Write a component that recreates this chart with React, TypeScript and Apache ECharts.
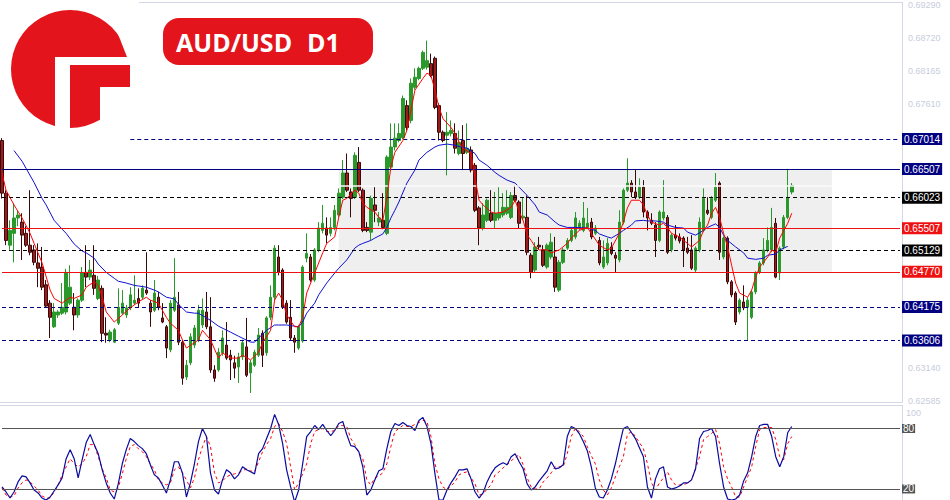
import React, { useEffect, useRef } from 'react';
import * as echarts from 'echarts';

// ---------- DATA ----------
const opens = [
  0.6699,0.6610,0.6522,0.6542,0.6568,0.6561,0.6542,0.6522,0.6514,0.6492,
  0.6485,0.6455,0.6424,0.6384,0.6404,0.6407,0.6409,0.6424,0.6417,0.6404,
  0.6429,0.6476,0.6468,0.6471,0.6432,0.6449,0.6373,0.6362,0.6358,0.6390,
  0.6407,0.6404,0.6416,0.6424,0.6432,0.6434,0.6446,0.6424,0.6412,0.6434,
  0.6399,0.6384,0.6345,0.6412,0.6421,0.6358,0.6299,0.6323,0.6353,0.6362,
  0.6387,0.6409,0.6384,0.6311,0.6311,0.6340,0.6353,0.6336,0.6323,0.6316,
  0.6333,0.6350,0.6306,0.6319,0.6336,0.6373,0.6340,0.6400,0.6434,0.6502,
  0.6480,0.6424,0.6400,0.6365,0.6348,0.6360,0.6500,0.6502,0.6463,0.6514,
  0.6547,0.6551,0.6542,0.6552,0.6573,0.6603,0.6644,0.6612,0.6603,0.6662,
  0.6615,0.6552,0.6544,0.6590,0.6561,0.6564,0.6542,0.6654,0.6688,0.6699,
  0.6704,0.6758,0.6733,0.6789,0.6804,0.6821,0.6823,0.6829,0.6838,0.6758,
  0.6713,0.6708,0.6711,0.6711,0.6677,0.6699,0.6679,0.6683,0.6657,0.6585,
  0.6551,0.6564,0.6576,0.6564,0.6568,0.6573,0.6576,0.6569,0.6606,0.6595,
  0.6568,0.6569,0.6505,0.6480,0.6522,0.6514,0.6485,0.6502,0.6502,0.6446,
  0.6493,0.6517,0.6530,0.6536,0.6551,0.6547,0.6552,0.6561,0.6542,0.6530,
  0.6485,0.6492,0.6519,0.6505,0.6497,0.6561,0.6615,0.6627,0.6612,0.6603,
  0.6620,0.6578,0.6564,0.6556,0.6530,0.6568,0.6569,0.6514,0.6539,0.6536,
  0.6534,0.6517,0.6514,0.6480,0.6514,0.6547,0.6581,0.6569,0.6598,0.6627,
  0.6502,0.6534,0.6460,0.6441,0.6409,0.6426,0.6417,0.6400,0.6443,0.6476,
  0.6492,0.6514,0.6514,0.6559,0.6475,0.6519,0.6569,0.6612
];
const closes = [
  0.6610,0.6530,0.6547,0.6568,0.6573,0.6539,0.6522,0.6510,0.6493,0.6483,
  0.6451,0.6419,0.6400,0.6409,0.6409,0.6417,0.6476,0.6451,0.6404,0.6429,
  0.6476,0.6468,0.6480,0.6449,0.6463,0.6373,0.6370,0.6375,0.6379,0.6417,
  0.6424,0.6416,0.6438,0.6429,0.6424,0.6449,0.6441,0.6409,0.6441,0.6417,
  0.6392,0.6348,0.6424,0.6434,0.6358,0.6297,0.6319,0.6367,0.6382,0.6412,
  0.6412,0.6384,0.6311,0.6297,0.6341,0.6365,0.6331,0.6328,0.6314,0.6333,
  0.6357,0.6302,0.6323,0.6341,0.6370,0.6336,0.6399,0.6434,0.6517,0.6476,
  0.6417,0.6392,0.6365,0.6358,0.6384,0.6485,0.6508,0.6463,0.6514,0.6551,
  0.6559,0.6539,0.6552,0.6581,0.6610,0.6644,0.6615,0.6601,0.6674,0.6615,
  0.6547,0.6547,0.6601,0.6581,0.6568,0.6552,0.6671,0.6688,0.6703,0.6711,
  0.6770,0.6721,0.6796,0.6806,0.6821,0.6848,0.6834,0.6809,0.6755,0.6713,
  0.6699,0.6713,0.6716,0.6686,0.6696,0.6677,0.6686,0.6649,0.6581,0.6551,
  0.6573,0.6598,0.6564,0.6576,0.6576,0.6586,0.6586,0.6606,0.6598,0.6559,
  0.6571,0.6510,0.6476,0.6519,0.6519,0.6488,0.6522,0.6527,0.6451,0.6493,
  0.6514,0.6530,0.6547,0.6568,0.6559,0.6568,0.6559,0.6536,0.6551,0.6492,
  0.6502,0.6525,0.6508,0.6500,0.6561,0.6615,0.6627,0.6612,0.6603,0.6620,
  0.6578,0.6568,0.6559,0.6530,0.6578,0.6578,0.6510,0.6539,0.6534,0.6529,
  0.6514,0.6510,0.6483,0.6517,0.6561,0.6601,0.6576,0.6601,0.6620,0.6510,
  0.6534,0.6460,0.6438,0.6392,0.6429,0.6416,0.6429,0.6443,0.6475,0.6492,
  0.6514,0.6530,0.6552,0.6468,0.6517,0.6569,0.6603,0.6623
];
const lows = [
  0.6601,0.6522,0.6514,0.6493,0.6554,0.6497,0.6519,0.6505,0.6488,0.6451,
  0.6446,0.6416,0.6365,0.6382,0.6399,0.6404,0.6405,0.6421,0.6378,0.6399,
  0.6426,0.6451,0.6463,0.6438,0.6429,0.6358,0.6357,0.6358,0.6357,0.6387,
  0.6404,0.6399,0.6412,0.6421,0.6416,0.6431,0.6438,0.6384,0.6409,0.6412,
  0.6390,0.6331,0.6341,0.6409,0.6353,0.6286,0.6294,0.6319,0.6348,0.6358,
  0.6382,0.6380,0.6306,0.6291,0.6308,0.6335,0.6328,0.6294,0.6297,0.6289,
  0.6328,0.6299,0.6272,0.6316,0.6333,0.6316,0.6335,0.6395,0.6429,0.6471,
  0.6414,0.6389,0.6360,0.6340,0.6345,0.6357,0.6493,0.6460,0.6460,0.6510,
  0.6542,0.6525,0.6537,0.6547,0.6569,0.6600,0.6612,0.6569,0.6600,0.6612,
  0.6544,0.6544,0.6530,0.6561,0.6554,0.6549,0.6539,0.6649,0.6682,0.6696,
  0.6701,0.6716,0.6728,0.6785,0.6801,0.6818,0.6819,0.6806,0.6752,0.6699,
  0.6696,0.6640,0.6706,0.6677,0.6674,0.6649,0.6676,0.6645,0.6578,0.6522,
  0.6547,0.6561,0.6561,0.6551,0.6564,0.6569,0.6573,0.6566,0.6595,0.6551,
  0.6564,0.6505,0.6466,0.6476,0.6515,0.6485,0.6482,0.6498,0.6443,0.6443,
  0.6490,0.6514,0.6527,0.6532,0.6547,0.6544,0.6549,0.6532,0.6539,0.6488,
  0.6482,0.6488,0.6505,0.6476,0.6493,0.6557,0.6612,0.6603,0.6600,0.6600,
  0.6569,0.6547,0.6556,0.6502,0.6527,0.6564,0.6507,0.6510,0.6530,0.6525,
  0.6485,0.6507,0.6480,0.6476,0.6510,0.6544,0.6573,0.6566,0.6595,0.6497,
  0.6498,0.6456,0.6434,0.6387,0.6405,0.6412,0.6360,0.6397,0.6439,0.6473,
  0.6488,0.6510,0.6510,0.6466,0.6463,0.6515,0.6566,0.6608
];
const highs = [
  0.6703,0.6615,0.6564,0.6593,0.6581,0.6576,0.6554,0.6615,0.6522,0.6525,
  0.6519,0.6463,0.6429,0.6424,0.6412,0.6458,0.6482,0.6488,0.6441,0.6432,
  0.6485,0.6522,0.6497,0.6522,0.6470,0.6454,0.6400,0.6379,0.6382,0.6449,
  0.6446,0.6421,0.6451,0.6471,0.6449,0.6454,0.6510,0.6429,0.6463,0.6443,
  0.6424,0.6387,0.6429,0.6500,0.6443,0.6362,0.6328,0.6373,0.6387,0.6421,
  0.6432,0.6443,0.6434,0.6319,0.6348,0.6378,0.6392,0.6345,0.6335,0.6340,
  0.6362,0.6399,0.6328,0.6345,0.6382,0.6378,0.6402,0.6454,0.6522,0.6522,
  0.6483,0.6429,0.6429,0.6370,0.6387,0.6488,0.6542,0.6507,0.6517,0.6561,
  0.6590,0.6569,0.6569,0.6590,0.6618,0.6666,0.6677,0.6618,0.6679,0.6688,
  0.6618,0.6561,0.6606,0.6620,0.6578,0.6610,0.6674,0.6728,0.6728,0.6728,
  0.6775,0.6767,0.6804,0.6821,0.6824,0.6851,0.6868,0.6846,0.6841,0.6762,
  0.6716,0.6747,0.6733,0.6728,0.6716,0.6725,0.6728,0.6689,0.6661,0.6588,
  0.6593,0.6601,0.6615,0.6612,0.6620,0.6610,0.6615,0.6612,0.6623,0.6598,
  0.6603,0.6606,0.6509,0.6527,0.6536,0.6522,0.6525,0.6542,0.6536,0.6497,
  0.6517,0.6534,0.6551,0.6578,0.6564,0.6595,0.6585,0.6568,0.6556,0.6536,
  0.6530,0.6534,0.6527,0.6510,0.6581,0.6618,0.6669,0.6632,0.6649,0.6635,
  0.6632,0.6581,0.6576,0.6561,0.6581,0.6632,0.6573,0.6542,0.6556,0.6542,
  0.6537,0.6536,0.6539,0.6520,0.6569,0.6618,0.6603,0.6605,0.6644,0.6630,
  0.6537,0.6537,0.6463,0.6444,0.6432,0.6454,0.6434,0.6446,0.6478,0.6495,
  0.6534,0.6552,0.6585,0.6568,0.6520,0.6573,0.6651,0.6627
];

// moving averages, read at bar indices: [barIndex, value]
const fastMA = [
  [0,0.6644],[1,0.6615],[3,0.6590],[5,0.6568],[7,0.6542],[8,0.6525],[10,0.6492],[12,0.6446],[13,0.6432],[15,0.6424],
  [17,0.6434],[18,0.6432],[20,0.6438],[21,0.6451],[23,0.6460],[24,0.6454],[25,0.6434],[26,0.6409],[28,0.6392],[30,0.6404],
  [32,0.6416],[34,0.6426],[36,0.6434],[37,0.6429],[39,0.6424],[41,0.6400],[42,0.6390],[44,0.6378],[45,0.6362],[46,0.6348],
  [48,0.6357],[49,0.6362],[50,0.6378],[52,0.6362],[54,0.6331],[55,0.6340],[57,0.6331],[59,0.6331],[60,0.6336],[62,0.6328],
  [64,0.6341],[65,0.6357],[67,0.6378],[68,0.6429],[69,0.6441],[70,0.6429],[71,0.6404],[73,0.6384],[74,0.6384],[75,0.6400],
  [76,0.6441],[77,0.6458],[78,0.6475],[80,0.6509],[81,0.6525],[83,0.6536],[84,0.6569],[85,0.6598],[86,0.6601],[88,0.6615],
  [89,0.6610],[90,0.6593],[91,0.6586],[93,0.6578],[94,0.6569],[95,0.6564],[96,0.6603],[97,0.6654],[98,0.6679],[100,0.6699],
  [101,0.6716],[102,0.6750],[103,0.6784],[105,0.6804],[106,0.6813],[107,0.6809],[108,0.6784],[109,0.6755],[110,0.6736],[112,0.6721],
  [113,0.6711],[114,0.6696],[115,0.6686],[117,0.6677],[118,0.6635],[119,0.6598],[120,0.6590],[122,0.6578],[123,0.6576],[125,0.6578],
  [127,0.6586],[128,0.6598],[129,0.6578],[130,0.6564],[131,0.6539],[132,0.6530],[133,0.6519],[134,0.6514],[136,0.6514],[137,0.6509],
  [139,0.6514],[141,0.6525],[142,0.6534],[144,0.6547],[146,0.6552],[147,0.6542],[149,0.6522],[151,0.6514],[152,0.6517],[154,0.6542],
  [155,0.6561],[156,0.6585],[157,0.6598],[159,0.6598],[160,0.6590],[161,0.6573],[162,0.6561],[164,0.6556],[165,0.6559],[166,0.6552],
  [167,0.6542],[169,0.6536],[170,0.6530],[171,0.6525],[172,0.6519],[174,0.6530],[175,0.6547],[176,0.6556],[177,0.6576],[178,0.6586],
  [179,0.6569],[180,0.6542],[181,0.6519],[182,0.6488],[183,0.6458],[184,0.6441],[186,0.6434],[187,0.6446],[188,0.6468],[189,0.6485],
  [191,0.6502],[192,0.6514],[193,0.6510],[194,0.6534],[196,0.6559],[197,0.6576]
];
const slowMA = [
  [3,0.6682],[5,0.6664],[6,0.6652],[8,0.6628],[10,0.6601],[11,0.6590],[13,0.6564],[15,0.6549],[16,0.6542],[18,0.6524],
  [20,0.6512],[21,0.6509],[23,0.6500],[24,0.6490],[26,0.6476],[28,0.6466],[29,0.6461],[31,0.6458],[33,0.6454],[34,0.6453],
  [36,0.6451],[38,0.6446],[39,0.6443],[41,0.6434],[43,0.6431],[44,0.6422],[46,0.6409],[48,0.6407],[49,0.6407],[52,0.6395],
  [54,0.6385],[57,0.6375],[59,0.6368],[62,0.6358],[63,0.6358],[64,0.6365],[66,0.6378],[68,0.6387],[69,0.6387],[71,0.6387],
  [73,0.6385],[74,0.6384],[75,0.6392],[76,0.6407],[78,0.6424],[79,0.6438],[81,0.6458],[83,0.6475],[84,0.6483],[86,0.6497],
  [88,0.6517],[89,0.6522],[90,0.6525],[92,0.6530],[93,0.6534],[95,0.6541],[96,0.6552],[97,0.6568],[98,0.6581],[99,0.6595],
  [101,0.6627],[103,0.6649],[104,0.6666],[106,0.6679],[108,0.6688],[109,0.6691],[111,0.6693],[113,0.6691],[114,0.6689],[116,0.6686],
  [118,0.6677],[119,0.6666],[121,0.6657],[123,0.6645],[124,0.6640],[126,0.6632],[128,0.6627],[129,0.6620],[131,0.6606],[133,0.6590],
  [134,0.6578],[136,0.6573],[138,0.6561],[139,0.6556],[141,0.6552],[143,0.6552],[146,0.6551],[148,0.6547],[149,0.6541],[151,0.6536],
  [152,0.6534],[154,0.6542],[155,0.6547],[157,0.6556],[158,0.6563],[160,0.6564],[161,0.6563],[163,0.6563],[165,0.6561],[166,0.6556],
  [168,0.6552],[170,0.6551],[171,0.6544],[173,0.6539],[175,0.6547],[176,0.6552],[178,0.6558],[179,0.6552],[180,0.6539],[181,0.6530],
  [183,0.6519],[185,0.6509],[186,0.6500],[188,0.6498],[190,0.6500],[191,0.6505],[193,0.6507],[194,0.6514],[196,0.6520]
];

// stochastic oscillator
const stochK = [
  22,17,11,17,27,33,32,26,19,16, 11,9,12,18,24,31,50,59,50,31,
  49,66,74,64,55,39,26,16,10,25, 45,59,70,67,63,60,55,44,34,31,
  24,16,29,47,47,36,12,26,45,67, 80,72,36,19,15,29,39,36,30,34,
  42,39,37,35,55,60,70,80,94,84, 65,39,22,7,19,45,72,77,83,79,
  84,78,73,78,85,87,74,63,62,57, 42,14,19,29,38,40,60,77,85,83,
  86,83,82,78,88,91,82,65,35,9, 9,19,26,32,39,39,40,30,17,11,
  16,27,35,41,44,46,44,52,55,47, 40,25,19,22,28,33,38,47,40,41,
  44,72,82,80,75,67,58,42,21,12, 11,19,30,45,63,80,82,76,70,61,
  52,22,11,30,40,42,22,20,21,23, 26,26,29,40,70,77,78,80,72,45,
  22,10,9,10,14,28,36,52,72,83, 84,84,72,52,42,52,76,82
];
const stochD = [
  21,14,12,13,21,26,29,27,23,19, 13,11,11,17,24,34,42,50,45,42,
  45,52,64,64,52,40,31,19,17,21, 35,50,62,64,60,57,52,45,39,29,
  26,24,26,39,42,36,29,21,31,49, 62,72,62,36,26,28,32,34,35,36,
  38,40,38,37,47,57,64,70,82,85, 77,65,42,19,26,35,45,65,77,79,
  80,77,77,78,83,83,82,70,64,56, 50,29,24,31,33,36,45,62,77,80,
  83,82,82,84,86,88,87,72,45,30, 22,19,23,27,34,36,37,31,25,14,
  15,20,24,34,37,41,44,48,51,54, 44,31,22,20,20,27,31,36,42,42,
  42,55,72,80,77,72,62,53,45,29, 19,14,21,32,42,52,74,77,72,66,
  60,45,26,19,26,31,37,29,24,24, 24,26,29,40,52,69,72,75,79,65,
  42,30,22,12,12,22,32,42,62,79, 81,81,81,69,52,49,65,72
];

const priceTicks = [0.6929, 0.6872, 0.68165, 0.6761, 0.6314, 0.62585];
const levelValues = [0.67014, 0.66507, 0.66023, 0.65507, 0.65129, 0.6477, 0.64175, 0.63606];
const stochLevels = [80, 20];
const zoneHigh = 0.66507;
const zoneLow = 0.6477;
const zoneSplit = 0.66233;

// ---------- STYLE / LAYOUT ----------
const NAVY = '#000080';
const RED = '#ee1111';
const BLACK = '#000000';
const levelStyles = [
  { line: NAVY, dashed: true, box: NAVY, startBar: 32 },
  { line: NAVY, dashed: false, box: NAVY },
  { line: BLACK, dashed: true, box: BLACK },
  { line: RED, dashed: false, box: RED },
  { line: BLACK, dashed: true, box: BLACK },
  { line: RED, dashed: false, box: RED },
  { line: NAVY, dashed: true, box: NAVY },
  { line: NAVY, dashed: true, box: NAVY },
];
const SLOTS = 225;
const zoneStartBar = 84;
const zoneEndBar = 207;
const LOGO_RED = '#e3141b';
const FONT = '"Liberation Sans", Arial, sans-serif';
const AXIS_C = '#d3d7e6';
const FAINT = '#c9ccdd';

export default function App() {
  const ref = useRef<HTMLDivElement>(null);
  useEffect(() => {
    if (!ref.current) return;
    const chart = echarts.init(ref.current, null, { renderer: 'svg' });
    const slots = Array.from({ length: SLOTS }, (_, i) => String(i));
    const candles = opens.map((o, i) => [o, closes[i], lows[i], highs[i]]);

    const levelMarks: any[] = levelValues.map((v, k) => {
      const st: any = levelStyles[k];
      const lineStyle = { color: st.line, width: 1, type: st.dashed ? [4, 3] : 'solid' };
      const label = {
        show: true, position: 'end', formatter: v.toFixed(5), color: '#ffffff',
        backgroundColor: st.box, padding: [1, 2, 0, 2], fontSize: 10, lineHeight: 11,
        fontFamily: FONT, distance: 2,
      };
      const startBar = st.startBar !== undefined ? st.startBar : 0;
      return [
        { coord: [startBar, v], lineStyle, label },
        { coord: [SLOTS - 1, v], lineStyle, label },
      ];
    });
    // thin light seam inside the shaded zone
    const seamStyle = { color: '#fbfbfb', width: 1.5, type: 'solid' };
    levelMarks.unshift([
      { coord: [zoneStartBar, zoneSplit], lineStyle: seamStyle, label: { show: false } },
      { coord: [zoneEndBar, zoneSplit], lineStyle: seamStyle, label: { show: false } },
    ]);

    const stochMarks = stochLevels.map((v) => {
      const lineStyle = { color: '#555555', width: 1, type: 'solid' };
      const label = {
        show: true, position: 'end', formatter: String(v), color: '#ffffff',
        backgroundColor: '#555555', padding: [0, 1, 0, 1], fontSize: 10, lineHeight: 9,
        fontFamily: FONT, distance: 2,
      };
      return [
        { coord: [0, v], lineStyle, label },
        { coord: [SLOTS - 1, v], lineStyle, label },
      ];
    });

    const hiddenCat = (gridIndex: number, position: string) => ({
      type: 'category', gridIndex, data: slots, position, boundaryGap: true,
      axisLine: { show: true, lineStyle: { color: AXIS_C, width: 1 } },
      axisTick: { show: false }, axisLabel: { show: false }, splitLine: { show: false },
    });

    const option: any = {
      animation: false,
      backgroundColor: '#ffffff',
      grid: [
        { left: 0, right: 48, top: 2, height: 400 },
        { left: 0, right: 48, top: 405.3, bottom: 0 },
      ],
      xAxis: [hiddenCat(0, 'bottom'), hiddenCat(1, 'top'), hiddenCat(0, 'top')],
      yAxis: [
        {
          type: 'value', gridIndex: 0, position: 'right', min: 0.62568, max: 0.69324,
          axisLine: { show: true, lineStyle: { color: AXIS_C } },
          axisTick: { show: false }, splitLine: { show: false },
          axisLabel: {
            customValues: priceTicks, formatter: (v: number) => v.toFixed(5),
            color: FAINT, fontSize: 9, fontFamily: FONT, margin: 6,
          },
        },
        {
          type: 'value', gridIndex: 1, position: 'right', min: 9.05, max: 103,
          axisLine: { show: true, lineStyle: { color: AXIS_C } },
          axisTick: { show: false }, splitLine: { show: false },
          axisLabel: {
            customValues: [100], verticalAlign: 'top', color: FAINT,
            fontSize: 9, fontFamily: FONT, margin: 4,
          },
        },
      ],
      series: [
        {
          // invisible carrier of the zone and level lines (drawn behind the candles)
          type: 'line', xAxisIndex: 0, yAxisIndex: 0, data: closes, z: 1, silent: true,
          symbol: 'none', lineStyle: { opacity: 0 },
          markArea: {
            silent: true, itemStyle: { color: '#efefef' },
            data: [[{ coord: [zoneStartBar, zoneHigh] }, { coord: [zoneEndBar, zoneLow] }]],
          },
          markLine: { silent: true, symbol: ['none', 'none'], animation: false, data: levelMarks },
        },
        {
          type: 'candlestick', xAxisIndex: 0, yAxisIndex: 0, z: 3, barWidth: 3, data: candles,
          itemStyle: {
            color: '#2a982a', borderColor: '#2a982a',
            color0: '#9b1c1c', borderColor0: '#3a0a0a', borderWidth: 1,
          },
        },
        {
          type: 'line', xAxisIndex: 0, yAxisIndex: 0, z: 4, data: slowMA, symbol: 'none',
          connectNulls: true, lineStyle: { color: '#1010d0', width: 1 },
        },
        {
          type: 'line', xAxisIndex: 0, yAxisIndex: 0, z: 5, data: fastMA, symbol: 'none',
          connectNulls: true, lineStyle: { color: '#ff0000', width: 1 },
        },
        {
          type: 'line', xAxisIndex: 1, yAxisIndex: 1, z: 3, data: stochD, symbol: 'none',
          lineStyle: { color: '#ff0000', width: 1, type: [3, 3] },
        },
        {
          type: 'line', xAxisIndex: 1, yAxisIndex: 1, z: 4, data: stochK, symbol: 'none',
          lineStyle: { color: '#0a0aa0', width: 1.2 },
          markLine: { silent: true, symbol: ['none', 'none'], animation: false, data: stochMarks },
        },
      ],
      graphic: [
        { type: 'rect', shape: { x: 0, y: 0, width: 139, height: 6 }, style: { fill: '#ffffff' }, z: 100 },
        { type: 'circle', shape: { cx: 70, cy: 69, r: 59 }, style: { fill: LOGO_RED }, z: 101 },
        { type: 'polygon', shape: { points: [[114, 6], [136, 6], [136, 57], [127, 57], [118, 34]] }, style: { fill: '#ffffff' }, z: 102 },
        { type: 'rect', shape: { x: 55, y: 57, width: 81, height: 8 }, style: { fill: '#ffffff' }, z: 102 },
        { type: 'rect', shape: { x: 55, y: 57, width: 15, height: 76 }, style: { fill: '#ffffff' }, z: 102 },
        { type: 'rect', shape: { x: 100, y: 87, width: 36, height: 46 }, style: { fill: '#ffffff' }, z: 102 },
        { type: 'rect', shape: { x: 70, y: 65, width: 60, height: 22 }, style: { fill: LOGO_RED }, z: 103 },
        { type: 'rect', shape: { x: 163, y: 18, width: 210, height: 47, r: 16 }, style: { fill: LOGO_RED }, z: 100 },
        {
          type: 'text', x: 176, y: 42, z: 101,
          style: {
            text: 'AUD/USD', fill: '#ffffff', fontSize: 25, fontWeight: 'bold',
            fontFamily: '"Open Sans", sans-serif', verticalAlign: 'middle',
          },
        },
        {
          type: 'text', x: 307, y: 42, z: 101,
          style: {
            text: 'D1', fill: '#ffffff', fontSize: 25, fontWeight: 'bold',
            fontFamily: '"Open Sans", sans-serif', verticalAlign: 'middle',
          },
        },
      ],
    };
    chart.setOption(option);
    return () => chart.dispose();
  }, []);
  return (
    <div
      ref={ref}
      style={{ position: 'absolute', left: 0, top: 0, width: 950, height: 500, background: '#fff' }}
    />
  );
}
